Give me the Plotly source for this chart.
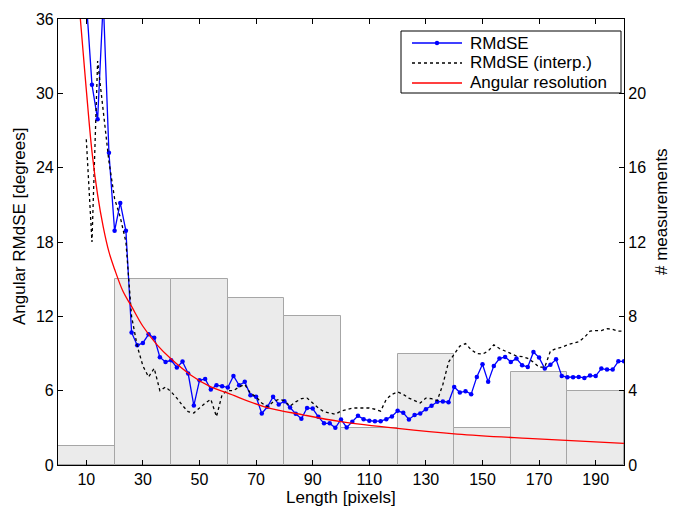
import plotly.graph_objects as go

# Histogram of measurements (bins of 20 px)
bin_centers = [10, 30, 50, 70, 90, 110, 130, 150, 170, 190]
bin_counts = [1, 10, 10, 9, 8, 2, 6, 2, 5, 4]

# RMdSE (measured)
length = list(range(10, 201, 2))
rmdse = [37.5, 30.7, 27.9, 37.5, 25.2, 18.9, 21.15, 18.9, 10.7, 9.66,
         9.85, 10.55, 10.28, 8.7, 8.32, 8.45, 7.87, 8.35, 7.38, 4.8,
         6.84, 6.95, 6.09, 6.44, 6.36, 6.25, 7.19, 6.44, 6.71, 5.64,
         5.5, 4.16, 4.7, 5.5, 4.89, 5.15, 4.64, 4.13, 3.73, 4.61,
         4.56, 3.89, 3.36, 3.36, 3.0, 3.68, 3.03, 3.49, 3.97, 3.7,
         3.57, 3.54, 3.54, 3.7, 3.92, 4.37, 4.21, 3.68, 4.03, 4.16,
         4.51, 4.78, 5.1, 5.13, 5.07, 6.3, 5.85, 5.96, 5.72, 7.11,
         8.13, 6.71, 8.0, 8.59, 8.72, 8.32, 8.59, 8.05, 7.92, 9.12,
         8.67, 7.78, 8.1, 8.53, 7.19, 7.09, 7.09, 7.11, 7.03, 7.22,
         7.19, 7.78, 7.7, 7.7, 8.37, 8.37]

# RMdSE (interpolated)
rmdse_interp = [26.3, 18.0, 32.6, 28.5, 24.5, 21.5, 20.0, 18.0, 12.0, 9.6,
                8.0, 7.1, 7.8, 6.0, 6.3, 5.9, 5.4, 4.8, 4.3, 4.2,
                4.6, 5.0, 5.3, 3.9, 5.7, 6.0, 6.0, 6.3, 6.5, 5.8,
                5.5, 5.0, 4.7, 5.1, 5.3, 5.2, 4.75, 5.1, 5.35, 5.4,
                5.0, 4.6, 4.3, 4.2, 4.1, 4.35, 4.5, 4.6, 4.6, 4.6,
                4.6, 4.5, 4.35, 5.3, 5.7, 5.9, 5.7, 5.4, 5.2, 5.0,
                5.4, 5.35, 5.2, 6.5, 8.3, 9.0, 9.6, 9.8, 9.3, 9.0,
                8.95, 9.2, 9.7, 9.4, 9.2, 9.0, 8.8, 8.75, 8.6, 8.3,
                7.9, 7.9, 9.2, 9.4, 9.5, 9.7, 9.8, 9.95, 10.3, 10.8,
                10.85, 10.85, 11.0, 10.95, 10.8, 10.8]

# Angular resolution
res_length = [7.9, 9, 10, 12, 14, 16, 18, 20, 23, 26, 30, 35, 40, 47, 54,
              60, 73, 87, 100, 120, 141, 166, 200]
res_deg = [36, 33, 30.3, 25.3, 21.8, 19.2, 17.2, 15.8, 14.0, 12.8, 11.2, 9.7,
           8.55, 7.25, 6.3, 5.8, 4.7, 4.03, 3.5, 2.95, 2.5, 2.15, 1.75]

x_ticks = [10, 30, 50, 70, 90, 110, 130, 150, 170, 190]
left_ticks = [0, 6, 12, 18, 24, 30, 36]
right_ticks = [0, 4, 8, 12, 16, 20]

legend_names = ["RMdSE", "RMdSE (interp.)", "Angular resolution"]
legend_colors = ["#0000ff", "#000000", "#ff0000"]
legend_dash = ["solid", "dot", "solid"]

FONT = "Liberation Sans, Arial, sans-serif"
TICK_SIZE = 16
TITLE_SIZE = 17
LEG_SIZE = 17

# page body has an 8px margin; figure sized to fill the rest of the window
W, H = 671, 505
PL, PR, PT, PB = 58, 624, 19, 465   # plot area in window pixels
ML, MR, MT, MB = PL - 8, 8 + W - PR, PT - 8, 8 + H - PB
PW, PH = W - ML - MR, H - MT - MB


def px_to_paper(px, py):
    # px, py in screen pixels of the 679x513 window
    return (px - 8 - ML) / PW, 1 - (py - 8 - MT) / PH


fig = go.Figure()
fig.add_trace(go.Bar(
    x=bin_centers, y=bin_counts, width=20, yaxis="y",
    marker=dict(color="#ebebeb", line=dict(color="#a6a6a6", width=1)),
    showlegend=False, hoverinfo="skip"))
fig.add_trace(go.Scatter(
    x=length, y=rmdse, yaxis="y2", mode="lines+markers", name=legend_names[0],
    line=dict(color=legend_colors[0], width=1.3),
    marker=dict(color=legend_colors[0], size=4.5), showlegend=False))
fig.add_trace(go.Scatter(
    x=length, y=rmdse_interp, yaxis="y2", mode="lines", name=legend_names[1],
    line=dict(color=legend_colors[1], width=1.3, dash="dot"), showlegend=False))
fig.add_trace(go.Scatter(
    x=res_length, y=res_deg, yaxis="y2", mode="lines", name=legend_names[2],
    line=dict(color=legend_colors[2], width=1.3, shape="spline"),
    showlegend=False))

axis_common = dict(showline=True, linecolor="black", linewidth=1.2,
                   ticks="inside", ticklen=5, tickcolor="black",
                   showgrid=False, zeroline=False,
                   tickfont=dict(family=FONT, size=TICK_SIZE, color="black"))

# Hand-drawn legend box
shapes = []
annotations = []
bx0, by0 = px_to_paper(401, 31)
bx1, by1 = px_to_paper(621, 93)
shapes.append(dict(type="rect", xref="paper", yref="paper",
                   x0=bx0, x1=bx1, y0=by1, y1=by0,
                   line=dict(color="black", width=1), fillcolor="white",
                   layer="above"))
row_y = [43, 63, 83]
for name, col, dsh, ry in zip(legend_names, legend_colors, legend_dash, row_y):
    lx0, ly = px_to_paper(412, ry)
    lx1, _ = px_to_paper(462, ry)
    shapes.append(dict(type="line", xref="paper", yref="paper",
                       x0=lx0, x1=lx1, y0=ly, y1=ly, layer="above",
                       line=dict(color=col, width=1.3, dash=dsh)))
    tx, _ = px_to_paper(468, ry)
    annotations.append(dict(text=name, xref="paper", yref="paper", x=tx, y=ly,
                            xanchor="left", yanchor="middle", showarrow=False,
                            font=dict(family=FONT, size=LEG_SIZE, color="black")))
mx, my = px_to_paper(437, row_y[0])
shapes.append(dict(type="circle", xref="paper", yref="paper",
                   xsizemode="pixel", ysizemode="pixel",
                   xanchor=mx, yanchor=my, x0=-2.2, x1=2.2, y0=-2.2, y1=2.2,
                   fillcolor=legend_colors[0], line=dict(color=legend_colors[0], width=0),
                   layer="above"))

# axis titles as annotations
rtx, rty = px_to_paper(661, 212)
annotations.append(dict(text="# measurements", xref="paper", yref="paper",
                        x=rtx, y=rty, xanchor="center", yanchor="middle",
                        textangle=-90, showarrow=False,
                        font=dict(family=FONT, size=TITLE_SIZE, color="black")))
ltx, lty = px_to_paper(19, 226)
annotations.append(dict(text="Angular RMdSE [degrees]", xref="paper", yref="paper",
                        x=ltx, y=lty, xanchor="center", yanchor="middle",
                        textangle=-90, showarrow=False,
                        font=dict(family=FONT, size=TITLE_SIZE, color="black")))
btx, bty = px_to_paper(341, 497)
annotations.append(dict(text="Length [pixels]", xref="paper", yref="paper",
                        x=btx, y=bty, xanchor="center", yanchor="middle",
                        showarrow=False,
                        font=dict(family=FONT, size=TITLE_SIZE, color="black")))

fig.update_layout(
    width=W, height=H,
    margin=dict(l=ML, r=MR, t=MT, b=MB, autoexpand=False),
    paper_bgcolor="white", plot_bgcolor="white",
    font=dict(family=FONT, size=TICK_SIZE, color="black"),
    bargap=0, showlegend=False,
    xaxis=dict(range=[0, 200], tickvals=x_ticks, mirror="ticks", **axis_common),
    yaxis=dict(range=[0, 24], tickvals=right_ticks, side="right",
               **axis_common),
    yaxis2=dict(range=[0, 36], tickvals=left_ticks, side="left",
                overlaying="y", **axis_common),
    shapes=shapes, annotations=annotations,
)

fig.write_html("out.html")
